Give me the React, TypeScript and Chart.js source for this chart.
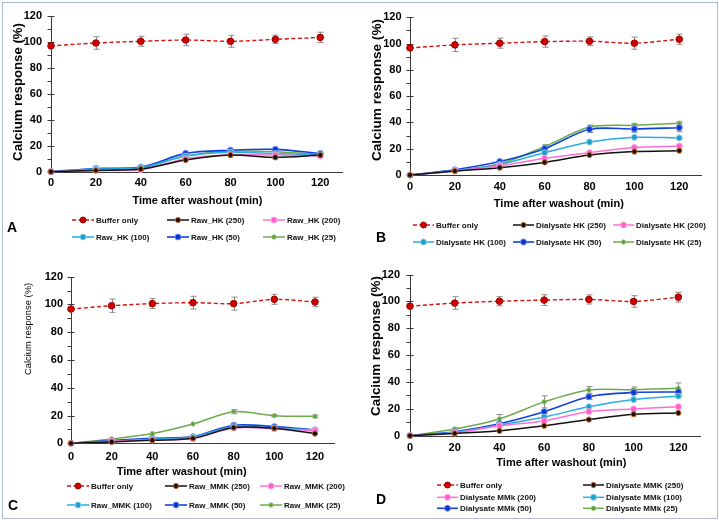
import React, { useEffect, useRef } from "react";
import { Chart, registerables } from "chart.js";
Chart.register(...registerables);

// ---------- data ----------
const TIMES = [0, 20, 40, 60, 80, 100, 120];
const X_MAX = 130;
const Y_MAX = 120;

// Panel A
const aBuffer = [96.8, 99.0, 100.3, 101.3, 100.3, 101.8, 103.3];
const aBufferErr = [0, 4.8, 3.8, 4.4, 4.6, 3.3, 4.0];
const aRaw250 = [0, 1.0, 2.0, 9.0, 12.8, 11.0, 12.8];
const aRaw200 = [0, 1.0, 1.5, 10.0, 13.0, 12.8, 12.0];
const aRaw100 = [0, 2.0, 3.0, 12.0, 15.0, 14.0, 13.0];
const aRaw50 = [0, 2.5, 3.5, 14.1, 16.5, 17.2, 14.0];
const aRaw25 = [0, 1.5, 3.0, 12.0, 15.8, 15.4, 13.0];

// Panel B
const bBuffer = [96.7, 99.0, 100.3, 101.5, 101.8, 100.3, 103.3];
const bBufferErr = [0, 5.0, 3.8, 4.3, 3.3, 4.6, 3.8];
const bDia250 = [0, 3.0, 5.6, 9.6, 15.2, 17.8, 18.5];
const bDia200 = [0, 3.0, 7.0, 12.7, 17.0, 21.0, 22.0];
const bDia100 = [0, 3.5, 8.0, 17.0, 25.1, 28.7, 28.2];
const bDia50 = [0, 4.0, 10.2, 20.0, 34.8, 35.0, 36.0];
const bDia50Err = [0, 0, 1.0, 1.5, 2.5, 2.5, 3.0];
const bDia25 = [0, 3.0, 8.5, 21.6, 36.5, 37.8, 39.3];
const bDia25Err = [0, 0, 1.0, 1.5, 1.5, 1.5, 1.5];

// Panel C
const cBuffer = [96.7, 99.1, 100.6, 101.3, 100.6, 103.7, 101.8];
const cBufferErr = [0, 4.8, 3.6, 4.6, 4.7, 3.6, 3.4];
const cRaw250 = [0, 1.0, 2.2, 3.6, 11.3, 10.8, 7.0];
const cRaw200 = [0, 1.5, 2.5, 3.5, 11.0, 10.5, 9.0];
const cRaw100 = [0, 1.5, 3.0, 4.5, 12.0, 11.0, 9.5];
const cRaw50 = [0, 2.0, 3.6, 4.8, 13.0, 12.0, 9.6];
const cRaw25 = [0, 3.1, 7.0, 13.9, 22.8, 19.9, 19.4];
const cRaw25Err = [0, 0, 0, 0, 1.5, 0.8, 1.0];

// Panel D
const dBuffer = [96.5, 98.8, 100.2, 101.0, 101.5, 100.0, 103.2];
const dBufferErr = [0, 4.7, 3.4, 4.0, 3.4, 4.3, 3.6];
const dDia250 = [0, 1.7, 3.6, 7.4, 12.0, 16.0, 17.0];
const dDia200 = [0, 2.0, 7.4, 11.0, 18.0, 19.9, 21.6];
const dDia100 = [0, 2.5, 8.0, 13.9, 21.6, 26.9, 29.5];
const dDia50 = [0, 3.0, 8.9, 17.8, 29.0, 32.2, 32.6];
const dDia50Err = [0, 0, 1.0, 1.5, 2.0, 1.5, 1.5];
const dDia25 = [0, 5.0, 12.5, 25.2, 34.1, 34.3, 35.3];
const dDia25Err = [0, 0.8, 3.3, 4.5, 2.5, 2.0, 4.0];

// ---------- styles ----------
const FONT = "'Liberation Sans', Arial, Helvetica, sans-serif";

type Style = { line: string; fill: string; stroke: string; r: number; dash?: number[]; width: number };
const STYLES: Record<string, Style> = {
  buffer: { line: "#d41414", fill: "#cc0000", stroke: "#a30000", r: 3.3, dash: [4, 2.5], width: 1.4 },
  s250: { line: "#111111", fill: "#111111", stroke: "#c8641e", r: 2.6, width: 1.5 },
  s200: { line: "#ff6fd2", fill: "#ff5fcc", stroke: "#ffa0e2", r: 3, width: 1.5 },
  s100: { line: "#27aee0", fill: "#1f9fc8", stroke: "#86cfe6", r: 3, width: 1.5 },
  s50: { line: "#1040e0", fill: "#0a36d6", stroke: "#6a8af0", r: 3, width: 1.6 },
  s25: { line: "#6cab4c", fill: "#5e9d3f", stroke: "#93c276", r: 2.2, width: 1.5 },
};

type Series = { label: string; data: number[]; err?: number[]; style: string };
type Panel = {
  canvas: { x: number; y: number; w: number; h: number };
  area: { l: number; t: number; r: number; b: number };
  xTickPad: number;
  yTickPad: number;
  yTitle: { x: number; y: number; size: number; bold: boolean };
  xTitle: { x: number; y: number };
  letter: { text: string; x: number; y: number };
  legend: { cols: number[]; rows: number[]; pos: number[][]; len: number };
  series: Series[];
};

const PANELS: Panel[] = [
  {
    canvas: { x: 0, y: 0, w: 359, h: 258 },
    area: { l: 51, t: 15.7, r: 342.7, b: 171.7 },
    xTickPad: 5,
    yTickPad: 9,
    yTitle: { x: 18, y: 92, size: 13.2, bold: true },
    xTitle: { x: 197.5, y: 201 },
    letter: { text: "A", x: 7, y: 228 },
    legend: { cols: [72, 167, 263], rows: [220, 237], pos: [[0, 0], [1, 0], [2, 0], [0, 1], [1, 1], [2, 1]], len: 22 },
    series: [
      { label: "Buffer only", data: aBuffer, err: aBufferErr, style: "buffer" },
      { label: "Raw_HK (250)", data: aRaw250, style: "s250" },
      { label: "Raw_HK (200)", data: aRaw200, style: "s200" },
      { label: "Raw_HK (100)", data: aRaw100, style: "s100" },
      { label: "Raw_HK (50)", data: aRaw50, style: "s50" },
      { label: "Raw_HK (25)", data: aRaw25, style: "s25" },
    ],
  },
  {
    canvas: { x: 359, y: 0, w: 360, h: 258 },
    area: { l: 410, t: 17.3, r: 701.7, b: 175 },
    xTickPad: 5.5,
    yTickPad: 8.5,
    yTitle: { x: 377, y: 90, size: 13.6, bold: true },
    xTitle: { x: 558.8, y: 204 },
    letter: { text: "B", x: 376, y: 238 },
    legend: { cols: [413, 513, 613], rows: [225, 242], pos: [[0, 0], [1, 0], [2, 0], [0, 1], [1, 1], [2, 1]], len: 21 },
    series: [
      { label: "Buffer only", data: bBuffer, err: bBufferErr, style: "buffer" },
      { label: "Dialysate HK (250)", data: bDia250, style: "s250" },
      { label: "Dialysate HK (200)", data: bDia200, style: "s200" },
      { label: "Dialysate HK (100)", data: bDia100, style: "s100" },
      { label: "Dialysate HK (50)", data: bDia50, err: bDia50Err, style: "s50" },
      { label: "Dialysate HK (25)", data: bDia25, err: bDia25Err, style: "s25" },
    ],
  },
  {
    canvas: { x: 0, y: 258, w: 359, h: 262 },
    area: { l: 71, t: 276.7, r: 335.3, b: 443.3 },
    xTickPad: 7,
    yTickPad: 8,
    yTitle: { x: 28, y: 329, size: 9.4, bold: false },
    xTitle: { x: 181.7, y: 471.7 },
    letter: { text: "C", x: 8, y: 506.5 },
    legend: { cols: [67, 165, 260], rows: [486, 505], pos: [[0, 0], [1, 0], [2, 0], [0, 1], [1, 1], [2, 1]], len: 22 },
    series: [
      { label: "Buffer only", data: cBuffer, err: cBufferErr, style: "buffer" },
      { label: "Raw_MMK (250)", data: cRaw250, style: "s250" },
      { label: "Raw_MMK (200)", data: cRaw200, style: "s200" },
      { label: "Raw_MMK (100)", data: cRaw100, style: "s100" },
      { label: "Raw_MMK (50)", data: cRaw50, style: "s50" },
      { label: "Raw_MMK (25)", data: cRaw25, err: cRaw25Err, style: "s25" },
    ],
  },
  {
    canvas: { x: 359, y: 258, w: 360, h: 262 },
    area: { l: 410, t: 269, r: 700.7, b: 435.7 },
    xTickPad: 5.5,
    yTickPad: 10,
    yTitle: { x: 376.7, y: 346, size: 13.4, bold: true },
    xTitle: { x: 561.3, y: 463.3 },
    letter: { text: "D", x: 376, y: 500 },
    legend: { cols: [437, 583], rows: [485, 497.3, 508.3], pos: [[0, 0], [1, 0], [0, 1], [1, 1], [0, 2], [1, 2]], len: 21 },
    series: [
      { label: "Buffer only", data: dBuffer, err: dBufferErr, style: "buffer" },
      { label: "Dialysate MMK (250)", data: dDia250, style: "s250" },
      { label: "Dialysate MMk (200)", data: dDia200, style: "s200" },
      { label: "Dialysate MMk (100)", data: dDia100, style: "s100" },
      { label: "Dialysate MMk (50)", data: dDia50, err: dDia50Err, style: "s50" },
      { label: "Dialysate MMk (25)", data: dDia25, err: dDia25Err, style: "s25" },
    ],
  },
];

const X_AXIS_H = 40;

function marker(ctx: CanvasRenderingContext2D, x: number, y: number, st: Style) {
  ctx.beginPath();
  ctx.arc(x, y, st.r, 0, Math.PI * 2);
  ctx.fillStyle = st.fill;
  ctx.fill();
  ctx.lineWidth = 1;
  ctx.strokeStyle = st.stroke;
  ctx.stroke();
}

function decor(p: Panel) {
  const ox = p.canvas.x;
  const oy = p.canvas.y;
  return {
    id: "decor",
    beforeDatasetsDraw(chart: any) {
      const ctx: CanvasRenderingContext2D = chart.ctx;
      const xs = chart.scales.x;
      const ys = chart.scales.y;
      const { left, right, top, bottom } = chart.chartArea;
      ctx.save();
      ctx.strokeStyle = "#3a3a3a";
      ctx.lineWidth = 1;
      const ax = Math.round(left) + 0.5;
      const ay = Math.round(bottom) + 0.5;
      ctx.beginPath();
      ctx.moveTo(ax, Math.round(top));
      ctx.lineTo(ax, ay);
      ctx.lineTo(Math.round(right), ay);
      ctx.stroke();
      for (let v = 0; v <= Y_MAX; v += 10) {
        const y = Math.round(ys.getPixelForValue(v)) + 0.5;
        ctx.beginPath();
        if (v % 20 === 0) {
          ctx.moveTo(ax - 4, y);
          ctx.lineTo(ax + 3, y);
        } else {
          ctx.moveTo(ax - 4, y);
          ctx.lineTo(ax, y);
        }
        ctx.stroke();
      }
      ctx.strokeStyle = "#8c8c8c";
      ctx.lineWidth = 1;
      p.series.forEach((s) => {
        if (!s.err) return;
        s.err.forEach((e, i) => {
          if (!e) return;
          const x = Math.round(xs.getPixelForValue(TIMES[i])) + 0.5;
          const y1 = ys.getPixelForValue(s.data[i] + e);
          const y2 = ys.getPixelForValue(s.data[i] - e);
          ctx.beginPath();
          ctx.moveTo(x, y1);
          ctx.lineTo(x, y2);
          ctx.moveTo(x - 3, y1);
          ctx.lineTo(x + 3, y1);
          ctx.moveTo(x - 3, y2);
          ctx.lineTo(x + 3, y2);
          ctx.stroke();
        });
      });
      ctx.restore();
    },
    afterDraw(chart: any) {
      const ctx: CanvasRenderingContext2D = chart.ctx;
      ctx.save();
      ctx.fillStyle = "#000";
      ctx.font = `bold 11px ${FONT}`;
      ctx.textAlign = "center";
      ctx.textBaseline = "middle";
      ctx.fillText("Time after washout (min)", p.xTitle.x - ox, p.xTitle.y - oy);
      ctx.save();
      ctx.translate(p.yTitle.x - ox, p.yTitle.y - oy);
      ctx.rotate(-Math.PI / 2);
      ctx.font = `${p.yTitle.bold ? "bold " : ""}${p.yTitle.size}px ${FONT}`;
      ctx.fillText("Calcium response (%)", 0, 0);
      ctx.restore();
      const L = p.legend;
      p.series.forEach((s, k) => {
        const st = STYLES[s.style];
        const [c, r] = L.pos[k];
        const x0 = L.cols[c] - ox;
        const y = L.rows[r] - oy;
        ctx.save();
        ctx.strokeStyle = st.line;
        ctx.lineWidth = st.width;
        ctx.setLineDash(st.dash || []);
        ctx.beginPath();
        ctx.moveTo(x0, y);
        ctx.lineTo(x0 + L.len, y);
        ctx.stroke();
        ctx.setLineDash([]);
        marker(ctx, x0 + L.len / 2, y, { ...st, r: Math.min(st.r, 3) });
        ctx.restore();
        ctx.font = `bold 8px ${FONT}`;
        ctx.textAlign = "left";
        ctx.textBaseline = "middle";
        ctx.fillStyle = "#111";
        ctx.fillText(s.label, x0 + L.len + 2, y + 0.5);
      });
      ctx.font = `bold 14px ${FONT}`;
      ctx.textAlign = "left";
      ctx.textBaseline = "middle";
      ctx.fillStyle = "#000";
      ctx.fillText(p.letter.text, p.letter.x - ox, p.letter.y - oy);
      ctx.restore();
    },
  };
}

function PanelChart({ p }: { p: Panel }) {
  const ref = useRef<HTMLCanvasElement | null>(null);
  useEffect(() => {
    const c = p.canvas;
    const a = p.area;
    const tickFont = { family: FONT, size: 11, weight: "bold" as const };
    const chart = new Chart(ref.current as HTMLCanvasElement, {
      type: "line",
      data: {
        datasets: p.series.map((s) => {
          const st = STYLES[s.style];
          return {
            label: s.label,
            data: TIMES.map((t, i) => ({ x: t, y: s.data[i] })),
            borderColor: st.line,
            backgroundColor: st.fill,
            pointBackgroundColor: st.fill,
            pointBorderColor: st.stroke,
            pointBorderWidth: 1,
            pointRadius: st.r,
            borderWidth: st.width,
            borderDash: st.dash || [],
            tension: 0.3,
            fill: false,
            clip: false as any,
          };
        }),
      },
      options: {
        responsive: false,
        animation: false,
        maintainAspectRatio: false,
        layout: {
          padding: {
            left: 0,
            top: a.t - c.y,
            right: c.x + c.w - a.r,
            bottom: c.y + c.h - a.b - X_AXIS_H,
          },
        },
        plugins: { legend: { display: false }, tooltip: { enabled: false } },
        scales: {
          x: {
            type: "linear",
            min: 0,
            max: X_MAX,
            grid: { display: false, drawTicks: false },
            border: { display: false },
            afterFit: (s: any) => {
              s.height = X_AXIS_H;
            },
            ticks: {
              stepSize: 20,
              includeBounds: false,
              font: tickFont,
              color: "#000",
              padding: p.xTickPad,
              maxRotation: 0,
              autoSkip: false,
            },
          },
          y: {
            type: "linear",
            min: 0,
            max: Y_MAX,
            grid: { display: false, drawTicks: false },
            border: { display: false },
            afterFit: (s: any) => {
              s.width = a.l - c.x;
            },
            ticks: {
              stepSize: 20,
              font: tickFont,
              color: "#000",
              padding: p.yTickPad,
            },
          },
        },
      } as any,
      plugins: [decor(p)],
    });
    return () => chart.destroy();
  }, [p]);
  const c = p.canvas;
  return (
    <canvas
      ref={ref}
      width={c.w}
      height={c.h}
      style={{ position: "absolute", left: c.x, top: c.y, width: c.w, height: c.h }}
    />
  );
}

export default function App() {
  return (
    <div style={{ position: "fixed", left: 0, top: 0, width: 719, height: 520, background: "#fff", overflow: "hidden" }}>
      <div
        style={{
          position: "absolute",
          left: 2,
          top: 2,
          width: 716,
          height: 517,
          border: "1px solid #a9bcd3",
          boxSizing: "border-box",
        }}
      />
      {PANELS.map((p, i) => (
        <PanelChart key={i} p={p} />
      ))}
    </div>
  );
}
